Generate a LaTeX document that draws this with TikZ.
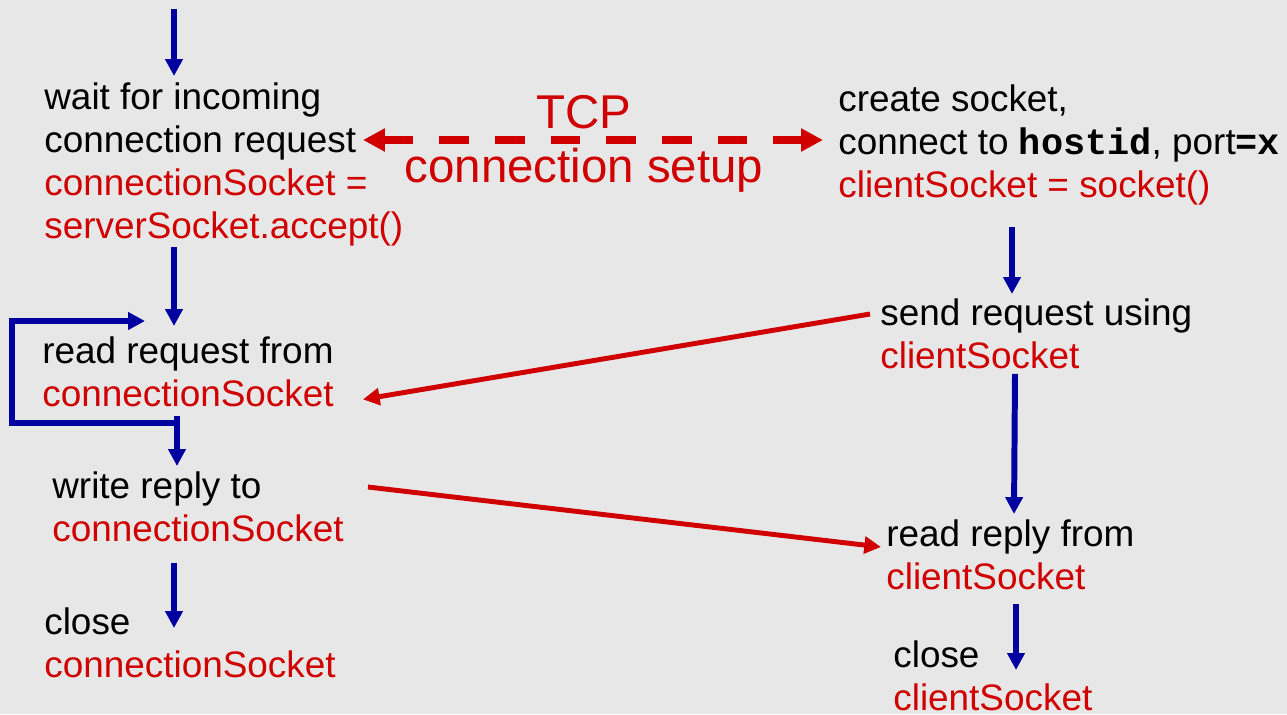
\documentclass[tikz,border=0pt]{standalone}
\usepackage{fontspec}
\setmainfont{Liberation Sans}
\setmonofont{Liberation Mono}
\usetikzlibrary{arrows.meta,calc}

\definecolor{paper}{RGB}{231,231,231}
\definecolor{flowblue}{RGB}{0,0,160}
\definecolor{msgred}{RGB}{208,0,0}

\tikzset{
  lbl/.style={anchor=north west, inner sep=0pt, align=left,
    font=\fontsize{21pt}{24.5pt}\selectfont},
  flow/.style={draw=flowblue, line width=3.4pt, -{Triangle[length=9.6pt,width=9.6pt]}},
  msg/.style={draw=msgred, line width=2.8pt, -{Triangle[length=9.5pt,width=9.5pt]}},
  setup/.style={draw=msgred, line width=4.5pt, dash pattern=on 17pt off 14.7pt,
    {Triangle[length=12.4pt,width=12.4pt]}-{Triangle[length=12.4pt,width=12.4pt]}}
}

\begin{document}
\begin{tikzpicture}[x=0.02cm, y=-0.02cm]
  % background, fixes the size
  \fill[paper] (0,0) rectangle (1287,714);

  % server side
  \node[lbl] (wait) at (44,82) {wait for incoming\\connection request\\
    \textcolor{msgred}{connectionSocket =}\\\textcolor{msgred}{serverSocket.accept()}};
  \node[lbl] (readreq) at (42,336) {read request from\\\textcolor{msgred}{connectionSocket}};
  \node[lbl] (writerep) at (52,471) {write reply to\\\textcolor{msgred}{connectionSocket}};
  \node[lbl] (closeconn) at (44,607) {close\\\textcolor{msgred}{connectionSocket}};

  % client side
  \node[lbl] (create) at (838,84) {create socket,\\connect to \texttt{\textbf{hostid}}, port\texttt{\textbf{=x}}\\
    \textcolor{msgred}{clientSocket = socket()}};
  \node[lbl] (sendreq) at (880,298) {send request using\\\textcolor{msgred}{clientSocket}};
  \node[lbl] (readrep) at (886,519) {read reply from\\\textcolor{msgred}{clientSocket}};
  \node[lbl] (closeclient) at (893,640) {close\\\textcolor{msgred}{clientSocket}};

  % handshake label
  \node[anchor=north, inner sep=0pt, align=center, text=msgred,
    font=\fontsize{27pt}{30.7pt}\selectfont] (tcp) at (584,95) {TCP\\connection setup};

  % server flow
  \coordinate (entry) at (174,9);
  \draw[flow] (entry) -- ($(wait.north west)+(130,-6)$);
  \draw[flow] ($(wait.south west)+(130,1)$) -- ($(readreq.north west)+(132,-10)$);
  \draw[flow] ($(readreq.south west)+(135,9)$) -- ($(writerep.north west)+(125,-5)$);
  \draw[flow] ($(readreq.south west)+(138,16)$) -| ($(readreq.north west)+(-30,-15)$) -- ++(133,0);
  \draw[flow] ($(writerep.south west)+(122,21)$) -- ($(closeconn.north west)+(130,21)$);

  % client flow
  \draw[flow] ($(create.south west)+(174,22)$) -- ($(sendreq.north west)+(132,-4)$);
  \draw[flow] ($(sendreq.south west)+(135,5)$) -- ($(readrep.north west)+(128,-5)$);
  \draw[flow] ($(readrep.south west)+(130,14)$) -- ($(closeclient.north west)+(123,30)$);

  % messages
  \draw[setup] ($(wait.north west)+(319,58)$) -- ($(create.north west)+(-15,56)$);
  \draw[msg] ($(sendreq.north west)+(-10,16)$) -- ($(readreq.east)+(29,28)$);
  \draw[msg] ($(writerep.north east)+(24,16)$) -- ($(readrep.north west)+(-5,28)$);
\end{tikzpicture}
\end{document}
